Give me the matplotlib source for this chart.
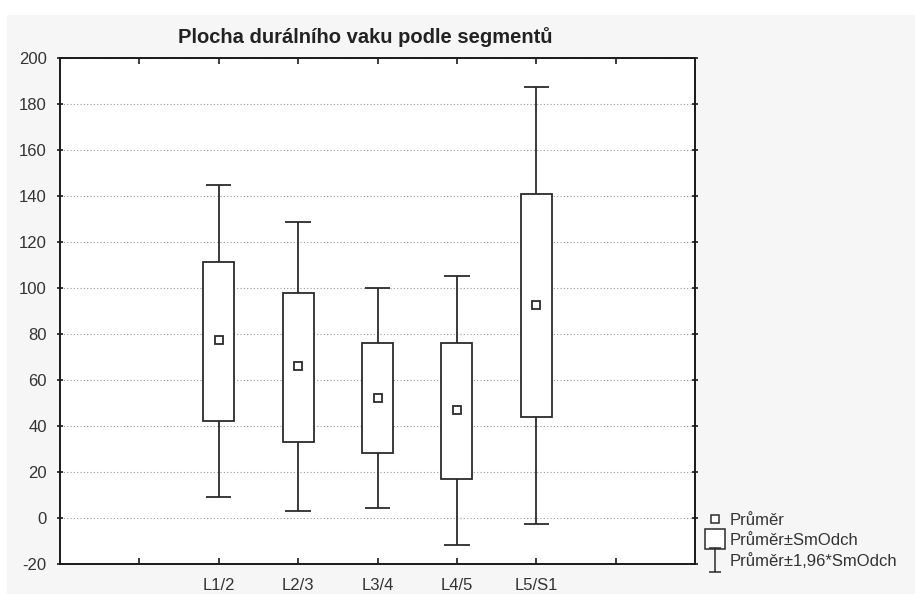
"""Statistica-style box plot: dural sac area by spinal segment."""

import matplotlib

matplotlib.use("Agg")
import matplotlib.pyplot as plt  # noqa: E402
from matplotlib.lines import Line2D  # noqa: E402
from matplotlib.patches import Rectangle  # noqa: E402
from matplotlib.path import Path  # noqa: E402

plt.rcParams["font.family"] = ["Liberation Sans", "DejaVu Sans"]
plt.rcParams["axes.unicode_minus"] = False

SEGMENTS = ["L1/2", "L2/3", "L3/4", "L4/5", "L5/S1"]
POSITIONS = [2, 3, 4, 5, 6]

# values
MEANS = [77.2, 66.2, 52.3, 47.0, 92.7]
BOX_LO = [42.2, 33.2, 28.1, 17.1, 43.7]          # mean - SD
BOX_HI = [111.4, 98.0, 76.2, 76.2, 140.9]        # mean + SD
WHISK_LO = [9.0, 2.9, 4.4, -11.7, -2.6]          # mean - 1.96*SD
WHISK_HI = [145.0, 128.8, 100.0, 105.2, 187.3]   # mean + 1.96*SD

Y_TICKS = list(range(-20, 201, 20))
X_TICKS = [1, 2, 3, 4, 5, 6, 7]
X_LABELS = ["", "L1/2", "L2/3", "L3/4", "L4/5", "L5/S1", ""]

EDGE = "#2b2b2b"
BOX_W = 0.39
CAP_W = 0.32

fig = plt.figure(figsize=(9.15, 5.94), dpi=100, facecolor="white")
fig.patches.append(Rectangle((7 / 915, 0), 1, 1 - 15 / 594, transform=fig.transFigure,
                             facecolor="#f6f6f6", edgecolor="none", zorder=-10))
ax = fig.add_axes([60 / 915, 30 / 594, 635 / 915, 506 / 594])
ax.set_facecolor("white")

heights = [h - l for h, l in zip(BOX_HI, BOX_LO)]
ax.bar(POSITIONS, heights, bottom=BOX_LO, width=BOX_W, facecolor="white",
       edgecolor=EDGE, linewidth=1.3, zorder=3)
ax.vlines(POSITIONS, WHISK_LO, BOX_LO, color=EDGE, linewidth=1.3, zorder=2)
ax.vlines(POSITIONS, BOX_HI, WHISK_HI, color=EDGE, linewidth=1.3, zorder=2)
for p, lo, hi in zip(POSITIONS, WHISK_LO, WHISK_HI):
    ax.hlines([lo, hi], p - CAP_W / 2, p + CAP_W / 2, color=EDGE, linewidth=1.3, zorder=2)
ax.plot(POSITIONS, MEANS, linestyle="none", marker="s", markersize=6,
        markerfacecolor="white", markeredgecolor=EDGE, markeredgewidth=1.3, zorder=4)

ax.set_xlim(0, 8)
ax.set_ylim(-20, 200)
ax.set_yticks(Y_TICKS)
ax.set_xticks(X_TICKS)
ax.set_xticklabels(X_LABELS)
ax.yaxis.grid(True, linestyle=(0, (1, 2)), color="#9a9a9a", linewidth=0.8)
ax.set_axisbelow(True)
for s in ax.spines.values():
    s.set_color("#1a1a1a")
    s.set_linewidth(1.4)
ax.tick_params(axis="x", direction="in", top=True, length=4, width=1.2,
               labelsize=12, colors="#1a1a1a", labelcolor="#333333", pad=10)
ax.tick_params(axis="y", direction="inout", right=True, length=5, width=1.2,
               labelsize=12, colors="#1a1a1a", labelcolor="#333333", pad=7)

fig.text(365 / 915, 1 - 37 / 594, "Plocha durálního vaku podle segmentů",
         ha="center", va="center", fontsize=14.5, fontweight="bold", color="#222222")

ibeam = Path([(-0.5, 1), (0.5, 1), (0, 1), (0, -1), (-0.5, -1), (0.5, -1)],
             [Path.MOVETO, Path.LINETO, Path.MOVETO, Path.LINETO, Path.MOVETO, Path.LINETO])
handles = [
    Line2D([], [], linestyle="none", marker="s", markersize=6, markerfacecolor="white",
           markeredgecolor=EDGE, markeredgewidth=1.1),
    Line2D([], [], linestyle="none", marker="s", markersize=14, markerfacecolor="white",
           markeredgecolor=EDGE, markeredgewidth=1.1),
    Line2D([], [], linestyle="none", marker=ibeam, markersize=17, markerfacecolor="none",
           markeredgecolor=EDGE, markeredgewidth=1.1),
]
labels = ["Průměr", "Průměr±SmOdch", "Průměr±1,96*SmOdch"]
fig.legend(handles, labels, loc="center left", bbox_to_anchor=(697 / 915, 1 - 541 / 594),
           frameon=False, fontsize=12, handlelength=1.1, handletextpad=0.35,
           labelspacing=0.3, borderpad=0, labelcolor="#333333")

fig.savefig("out.png", dpi=100, facecolor=fig.get_facecolor())
